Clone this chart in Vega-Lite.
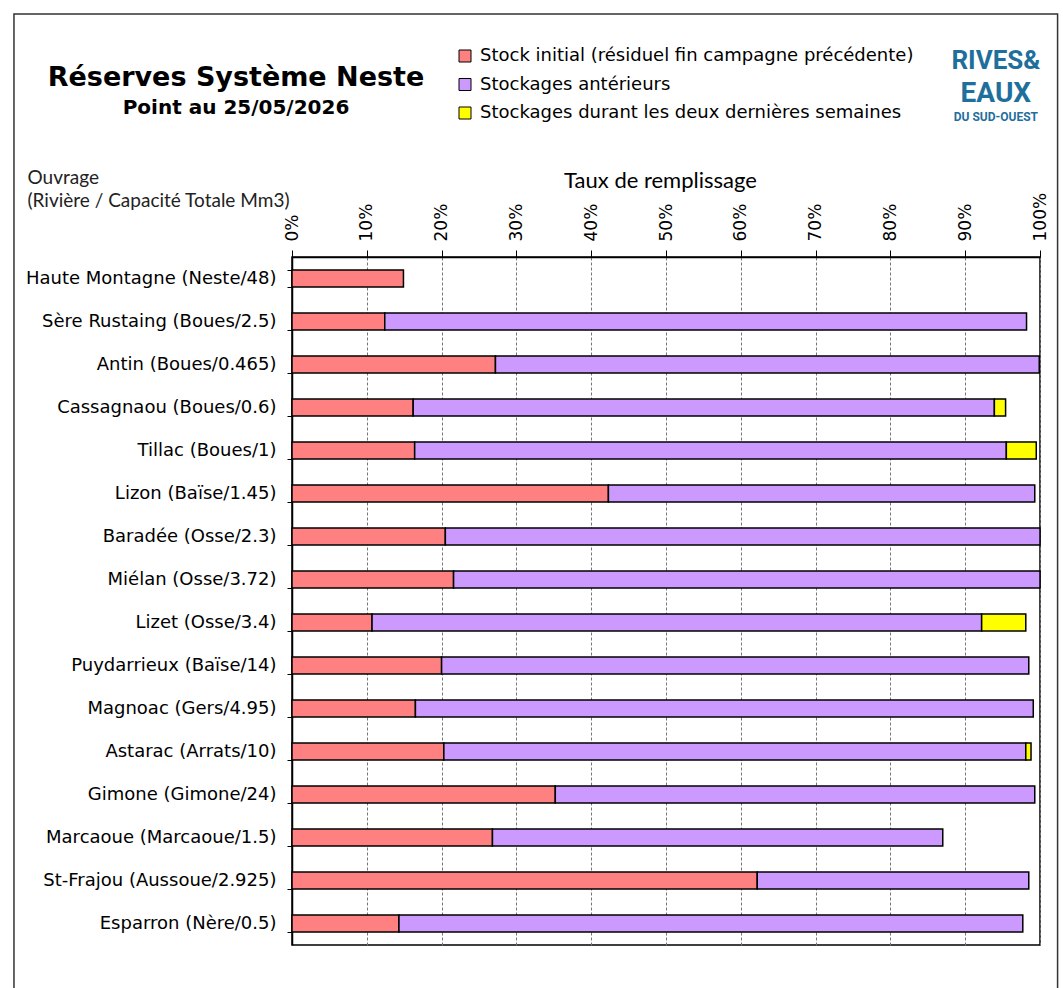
{
  "$schema": "https://vega.github.io/schema/vega-lite/v6.json",
  "width": 748,
  "height": 688,
  "autosize": {"type": "none"},
  "padding": {"left": 292, "top": 257, "right": 23, "bottom": 43},
  "background": "white",
  "config": {"view": {"stroke": "black", "strokeWidth": 1.5}, "font": "DejaVu Sans"},
  "title": {
    "text": "Réserves Système Neste",
    "subtitle": "Point au 25/05/2026",
    "font": "DejaVu Sans",
    "fontSize": 27,
    "fontWeight": "bold",
    "color": "black",
    "subtitleFont": "DejaVu Sans",
    "subtitleFontSize": 20,
    "subtitleFontWeight": "bold",
    "subtitleColor": "black",
    "subtitlePadding": 6,
    "anchor": "middle",
    "frame": "group",
    "dx": -430,
    "dy": 110
  },
  "resolve": {"scale": {"y": "independent"}},
  "layer": [
    {
      "data": {"values": [
        {"ouvrage": "Haute Montagne (Neste/48)", "serie": "Stock initial (résiduel fin campagne précédente)", "valeur": 0.149},
        {"ouvrage": "Sère Rustaing (Boues/2.5)", "serie": "Stock initial (résiduel fin campagne précédente)", "valeur": 0.124},
        {"ouvrage": "Sère Rustaing (Boues/2.5)", "serie": "Stockages antérieurs", "valeur": 0.858},
        {"ouvrage": "Antin (Boues/0.465)", "serie": "Stock initial (résiduel fin campagne précédente)", "valeur": 0.272},
        {"ouvrage": "Antin (Boues/0.465)", "serie": "Stockages antérieurs", "valeur": 0.727},
        {"ouvrage": "Cassagnaou (Boues/0.6)", "serie": "Stock initial (résiduel fin campagne précédente)", "valeur": 0.162},
        {"ouvrage": "Cassagnaou (Boues/0.6)", "serie": "Stockages antérieurs", "valeur": 0.777},
        {"ouvrage": "Cassagnaou (Boues/0.6)", "serie": "Stockages durant les deux dernières semaines", "valeur": 0.015},
        {"ouvrage": "Tillac (Boues/1)", "serie": "Stock initial (résiduel fin campagne précédente)", "valeur": 0.164},
        {"ouvrage": "Tillac (Boues/1)", "serie": "Stockages antérieurs", "valeur": 0.791},
        {"ouvrage": "Tillac (Boues/1)", "serie": "Stockages durant les deux dernières semaines", "valeur": 0.040},
        {"ouvrage": "Lizon (Baïse/1.45)", "serie": "Stock initial (résiduel fin campagne précédente)", "valeur": 0.423},
        {"ouvrage": "Lizon (Baïse/1.45)", "serie": "Stockages antérieurs", "valeur": 0.570},
        {"ouvrage": "Baradée (Osse/2.3)", "serie": "Stock initial (résiduel fin campagne précédente)", "valeur": 0.205},
        {"ouvrage": "Baradée (Osse/2.3)", "serie": "Stockages antérieurs", "valeur": 0.795},
        {"ouvrage": "Miélan (Osse/3.72)", "serie": "Stock initial (résiduel fin campagne précédente)", "valeur": 0.216},
        {"ouvrage": "Miélan (Osse/3.72)", "serie": "Stockages antérieurs", "valeur": 0.784},
        {"ouvrage": "Lizet (Osse/3.4)", "serie": "Stock initial (résiduel fin campagne précédente)", "valeur": 0.107},
        {"ouvrage": "Lizet (Osse/3.4)", "serie": "Stockages antérieurs", "valeur": 0.815},
        {"ouvrage": "Lizet (Osse/3.4)", "serie": "Stockages durant les deux dernières semaines", "valeur": 0.059},
        {"ouvrage": "Puydarrieux (Baïse/14)", "serie": "Stock initial (résiduel fin campagne précédente)", "valeur": 0.200},
        {"ouvrage": "Puydarrieux (Baïse/14)", "serie": "Stockages antérieurs", "valeur": 0.785},
        {"ouvrage": "Magnoac (Gers/4.95)", "serie": "Stock initial (résiduel fin campagne précédente)", "valeur": 0.165},
        {"ouvrage": "Magnoac (Gers/4.95)", "serie": "Stockages antérieurs", "valeur": 0.826},
        {"ouvrage": "Astarac (Arrats/10)", "serie": "Stock initial (résiduel fin campagne précédente)", "valeur": 0.203},
        {"ouvrage": "Astarac (Arrats/10)", "serie": "Stockages antérieurs", "valeur": 0.778},
        {"ouvrage": "Astarac (Arrats/10)", "serie": "Stockages durant les deux dernières semaines", "valeur": 0.007},
        {"ouvrage": "Gimone (Gimone/24)", "serie": "Stock initial (résiduel fin campagne précédente)", "valeur": 0.352},
        {"ouvrage": "Gimone (Gimone/24)", "serie": "Stockages antérieurs", "valeur": 0.641},
        {"ouvrage": "Marcaoue (Marcaoue/1.5)", "serie": "Stock initial (résiduel fin campagne précédente)", "valeur": 0.268},
        {"ouvrage": "Marcaoue (Marcaoue/1.5)", "serie": "Stockages antérieurs", "valeur": 0.602},
        {"ouvrage": "St-Frajou (Aussoue/2.925)", "serie": "Stock initial (résiduel fin campagne précédente)", "valeur": 0.622},
        {"ouvrage": "St-Frajou (Aussoue/2.925)", "serie": "Stockages antérieurs", "valeur": 0.363},
        {"ouvrage": "Esparron (Nère/0.5)", "serie": "Stock initial (résiduel fin campagne précédente)", "valeur": 0.143},
        {"ouvrage": "Esparron (Nère/0.5)", "serie": "Stockages antérieurs", "valeur": 0.834}
      ]},
      "mark": {"type": "bar", "stroke": "black", "strokeWidth": 1.5},
      "encoding": {
        "y": {
          "field": "ouvrage", "type": "nominal", "sort": null,
          "scale": {"paddingInner": 0.6, "paddingOuter": 0.3},
          "axis": {
            "title": ["Ouvrage", "(Rivière / Capacité Totale Mm3)"],
            "titleAngle": 0, "titleAlign": "left", "titleBaseline": "alphabetic",
            "titleX": -265, "titleY": -74, "titleLineHeight": 23,
            "titleFont": "Lato", "titleFontSize": 19, "titleFontWeight": "normal", "titleColor": "#222",
            "labelFont": "DejaVu Sans", "labelFontSize": 18, "labelColor": "black", "labelPadding": 11, "labelLimit": 0,
            "tickBand": "extent", "ticks": true, "tickSize": 5, "tickColor": "black",
            "domainColor": "black", "domainWidth": 1.5, "grid": false
          }
        },
        "x": {
          "field": "valeur", "type": "quantitative", "stack": "zero",
          "scale": {"domain": [0, 1], "nice": false},
          "axis": {
            "orient": "top", "format": "%", "values": [0, 0.1, 0.2, 0.3, 0.4, 0.5, 0.6, 0.7, 0.8, 0.9, 1],
            "labelAngle": -90, "labelFont": "DejaVu Sans", "labelFontSize": 17, "labelColor": "black",
            "labelPadding": 9, "labelFlush": false, "labelOverlap": false, "labelBound": false,
            "tickSize": 7, "tickColor": "black", "domainColor": "black", "domainWidth": 1.5,
            "grid": true, "gridColor": "#777", "gridDash": [3, 2], "gridWidth": 1,
            "title": "Taux de remplissage", "titleFont": "Lato", "titleFontSize": 22, "titleFontWeight": "normal",
            "titleColor": "black", "titleX": 368, "titleY": -70, "titleBaseline": "alphabetic"
          }
        },
        "color": {
          "field": "serie", "type": "nominal",
          "scale": {
            "domain": ["Stock initial (résiduel fin campagne précédente)", "Stockages antérieurs", "Stockages durant les deux dernières semaines"],
            "range": ["#FF8080", "#CC99FF", "#FFFF00"]
          },
          "legend": {
            "orient": "none", "legendX": 164, "legendY": -210, "title": null,
            "symbolType": "square", "symbolSize": 144, "symbolStrokeColor": "black", "symbolStrokeWidth": 1, "symbolOpacity": 1,
            "labelFont": "DejaVu Sans", "labelFontSize": 18, "labelColor": "black", "labelLimit": 0,
            "rowPadding": 10.5, "labelOffset": 6, "padding": 0
          }
        },
        "order": {"field": "serie", "sort": "ascending"}
      }
    },
    {
      "data": {"values": [{"t": "RIVES&"}]},
      "mark": {"type": "text", "font": "'Liberation Sans Narrow', Roboto", "fontWeight": "bold", "fontSize": 26, "color": "#1f6f9c", "align": "center", "baseline": "alphabetic"},
      "encoding": {
        "text": {"field": "t"},
        "x": {"datum": 0.941},
        "y": {"datum": 1.273, "type": "quantitative", "scale": {"domain": [0, 1]}, "axis": null}
      }
    },
    {
      "data": {"values": [{"t": "EAUX"}]},
      "mark": {"type": "text", "font": "'Liberation Sans Narrow', Roboto", "fontWeight": "bold", "fontSize": 28, "color": "#1f6f9c", "align": "center", "baseline": "alphabetic"},
      "encoding": {
        "text": {"field": "t"},
        "x": {"datum": 0.941},
        "y": {"datum": 1.225, "type": "quantitative", "scale": {"domain": [0, 1]}, "axis": null}
      }
    },
    {
      "data": {"values": [{"t": "DU SUD-OUEST"}]},
      "mark": {"type": "text", "font": "'Liberation Sans Narrow', Roboto", "fontWeight": "bold", "fontSize": 12, "color": "#1f6f9c", "align": "center", "baseline": "alphabetic"},
      "encoding": {
        "text": {"field": "t"},
        "x": {"datum": 0.941},
        "y": {"datum": 1.198, "type": "quantitative", "scale": {"domain": [0, 1]}, "axis": null}
      }
    },
    {
      "data": {"values": [{"t": "cadre"}]},
      "mark": {"type": "rect", "fill": "white", "fillOpacity": 0, "stroke": "#333", "strokeWidth": 1.5, "clip": false},
      "encoding": {
        "x": {"datum": -0.3717},
        "x2": {"datum": 1.0235},
        "y": {"datum": 1.3532, "type": "quantitative", "scale": {"domain": [0, 1]}, "axis": null},
        "y2": {"datum": -0.1}
      }
    }
  ]
}
